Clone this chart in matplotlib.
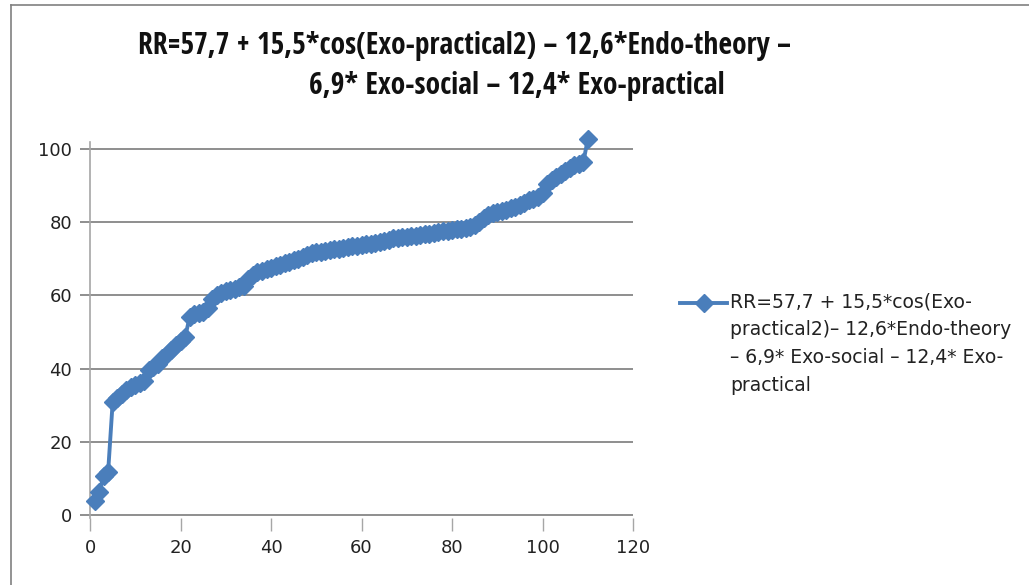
import matplotlib
matplotlib.use('Agg')
import matplotlib.pyplot as plt
from matplotlib.lines import Line2D
from matplotlib import font_manager

# pick a narrow family if one is installed
names = {f.name for f in font_manager.fontManager.ttflist}
narrow = 'DejaVu Sans'
for cand in ['Liberation Sans Narrow', 'DejaVu Sans Condensed', 'Open Sans Condensed',
             'Roboto Condensed', 'Liberation Sans']:
    if cand in names:
        narrow = cand
        break
plt.rcParams['font.family'] = ['DejaVu Sans']

# values (x = case index, y = RR)
x = list(range(1, 111))
rr = [3.8, 6.2, 10.5, 11.8, 30.8, 32.0, 33.0, 34.0, 35.0, 35.5,
      36.0, 36.5, 39.5, 40.5, 41.2, 42.8, 44.0, 45.0, 46.5, 47.5,
      48.5, 54.0, 54.8, 55.2, 55.6, 56.5, 59.0, 60.0, 60.6, 61.2,
      61.6, 61.9, 62.2, 62.5, 64.5, 65.5, 66.3, 66.8, 67.2, 67.6,
      68.0, 68.4, 68.8, 69.2, 69.6, 70.0, 70.5, 71.0, 71.5, 71.8,
      72.0, 72.2, 72.4, 72.6, 72.8, 73.0, 73.2, 73.4, 73.6, 73.8,
      74.0, 74.1, 74.3, 74.6, 75.0, 75.3, 75.6, 75.8, 76.0, 76.1,
      76.2, 76.3, 76.5, 76.7, 76.9, 77.1, 77.3, 77.5, 77.7, 77.9,
      78.1, 78.3, 78.5, 78.8, 79.2, 80.2, 81.2, 82.0, 82.5, 82.8,
      83.1, 83.4, 83.8, 84.2, 84.7, 85.3, 86.0, 86.5, 86.8, 88.0,
      90.5, 91.5, 92.5, 93.3, 94.0, 95.0, 95.6, 96.0, 96.4, 102.7]

xticks = [0, 20, 40, 60, 80, 100, 120]
yticks = [0, 20, 40, 60, 80, 100]

title_1 = 'RR=57,7 + 15,5*cos(Exo-practical2) \u2013 12,6*Endo-theory \u2013'
title_2 = '6,9* Exo-social \u2013 12,4* Exo-practical'
legend_label = ('RR=57,7 + 15,5*cos(Exo-\npractical2)\u2013 12,6*Endo-theory\n'
                '\u2013 6,9* Exo-social \u2013 12,4* Exo-\npractical')

blue = '#4a7ebb'
grid_col = '#868686'

fig = plt.figure(figsize=(10.29, 5.85), dpi=100)
ax = fig.add_axes([0.0875, 0.1138, 0.5277, 0.6436])

ax.plot(x, rr, color=blue, lw=2.8, marker='D', markersize=9.5,
        markeredgecolor=blue, markerfacecolor=blue, clip_on=False, zorder=3)

ax.set_xlim(0, 120)
ax.set_ylim(-1, 102)
ax.set_xticks(xticks)
ax.set_yticks(yticks)
ax.yaxis.grid(True, color=grid_col, lw=1.3)
ax.set_axisbelow(True)

for s in ['top', 'right', 'bottom']:
    ax.spines[s].set_visible(False)
ax.spines['left'].set_color('#a6a6a6')
ax.spines['left'].set_linewidth(1.2)

ax.tick_params(axis='y', length=7, width=1.3, color=grid_col, pad=6,
               labelsize=13, labelcolor='#222222')
ax.tick_params(axis='x', length=9, width=1.0, color='#a6a6a6', pad=6,
               labelsize=13, labelcolor='#222222')

# title (two centred lines), sized to the reference width
t1 = fig.text(464 / 1029, 1 - 46 / 585, title_1, ha='center', va='center',
              fontsize=20, fontweight='bold', color='#111111', family=narrow)
t2 = fig.text(517 / 1029, 1 - 86 / 585, title_2, ha='center', va='center',
              fontsize=20, fontweight='bold', color='#111111', family=narrow)
fig.canvas.draw()
w1 = t1.get_window_extent().width
size = 20 * 655 / w1
t1.set_fontsize(size)
t2.set_fontsize(size)

# legend entry
fig.add_artist(Line2D([680 / 1029, 727 / 1029], [1 - 303 / 585] * 2,
                      color=blue, lw=2.8))
fig.add_artist(Line2D([703.5 / 1029], [1 - 303 / 585], color=blue,
                      marker='D', markersize=9.5, lw=0))
fig.text(730 / 1029, 1 - 292 / 585, legend_label, ha='left', va='top',
         fontsize=13.5, color='#222222', linespacing=1.6)

# chart area border
fig.add_artist(Line2D([11 / 1029, 11 / 1029], [0, 1 - 5 / 585],
                      color='#808080', lw=1.2))
fig.add_artist(Line2D([11 / 1029, 1], [1 - 5 / 585] * 2,
                      color='#808080', lw=1.2))

fig.savefig('out.png', dpi=100)
